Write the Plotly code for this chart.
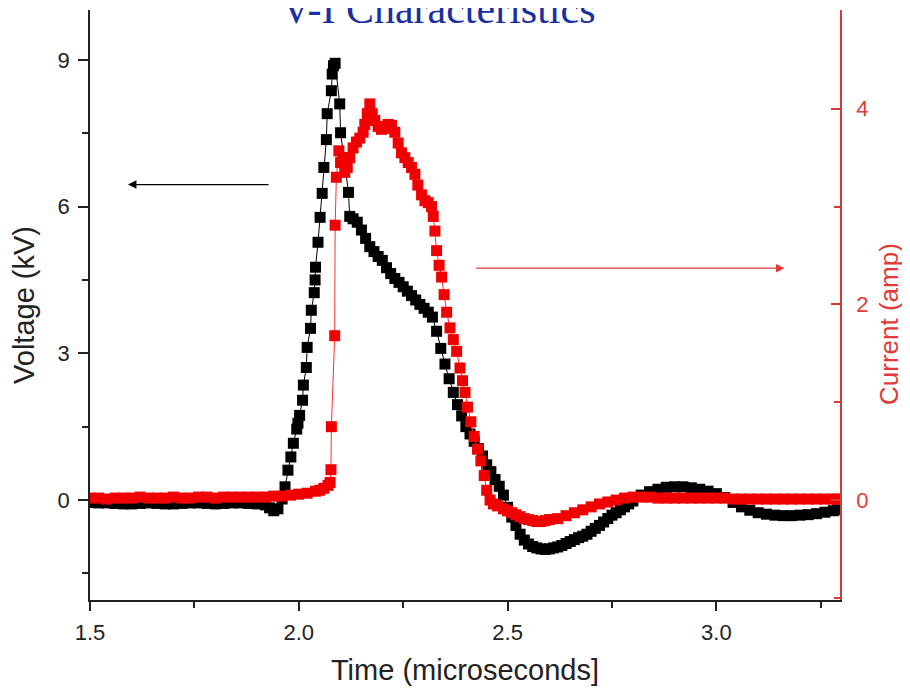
import plotly.graph_objects as go

# ---------------- data ----------------
# Voltage (kV), black squares, left axis
time_v = [1.50, 1.52, 1.54, 1.56, 1.58, 1.60, 1.62, 1.64, 1.66, 1.68, 1.70, 1.72,
          1.74, 1.76, 1.78, 1.80, 1.82, 1.84, 1.86, 1.88, 1.90, 1.92, 1.93, 1.94,
          1.95, 1.960, 1.967, 1.974, 1.981, 1.987, 1.995, 1.998, 2.002, 2.009,
          2.011, 2.018, 2.020, 2.028, 2.030, 2.037, 2.039, 2.040, 2.046, 2.051,
          2.056, 2.060, 2.066, 2.068, 2.078, 2.080, 2.083, 2.087, 2.098, 2.100,
          2.119, 2.122, 2.13, 2.14, 2.15, 2.16, 2.17, 2.18, 2.19, 2.20, 2.21,
          2.22, 2.23, 2.24, 2.25, 2.26, 2.27, 2.28, 2.29, 2.30, 2.31, 2.32, 2.33,
          2.34, 2.35, 2.36, 2.37, 2.38, 2.39, 2.40, 2.41, 2.42, 2.43, 2.44, 2.45,
          2.46, 2.47, 2.48, 2.49, 2.50, 2.51, 2.52, 2.53, 2.54, 2.55, 2.56, 2.57,
          2.58, 2.59, 2.60, 2.61, 2.62, 2.63, 2.64, 2.65, 2.66, 2.67, 2.68, 2.69,
          2.70, 2.71, 2.72, 2.73, 2.74, 2.75, 2.76, 2.77, 2.78, 2.79, 2.80, 2.82,
          2.84, 2.86, 2.88, 2.90, 2.92, 2.94, 2.96, 2.98, 3.00, 3.02, 3.04, 3.06,
          3.08, 3.10, 3.12, 3.14, 3.16, 3.18, 3.20, 3.22, 3.24, 3.26, 3.28, 3.29]
voltage_kv = [-0.05, -0.06, -0.06, -0.07, -0.08, -0.08, -0.07, -0.06, -0.07, -0.08,
              -0.08, -0.07, -0.06, -0.06, -0.07, -0.08, -0.07, -0.06, -0.06, -0.07,
              -0.08, -0.10, -0.16, -0.22, -0.18, 0.02, 0.27, 0.61, 0.88, 1.16, 1.45,
              1.57, 1.73, 2.04, 2.35, 2.71, 3.12, 3.51, 3.88, 4.24, 4.50, 4.76, 5.27,
              5.78, 6.27, 6.80, 7.37, 7.90, 8.37, 8.71, 8.88, 8.93, 8.10, 7.51, 6.29,
              5.80, 5.75, 5.68, 5.52, 5.35, 5.18, 5.08, 4.98, 4.90, 4.75, 4.63, 4.53,
              4.45, 4.36, 4.27, 4.18, 4.09, 4.00, 3.92, 3.84, 3.74, 3.45, 3.10, 2.78,
              2.48, 2.20, 1.95, 1.72, 1.50, 1.35, 1.20, 1.05, 0.90, 0.72, 0.58, 0.42,
              0.28, 0.10, -0.15, -0.35, -0.52, -0.70, -0.82, -0.90, -0.95, -0.98,
              -1.00, -1.01, -1.00, -0.98, -0.96, -0.93, -0.89, -0.85, -0.81, -0.77,
              -0.74, -0.70, -0.64, -0.58, -0.52, -0.45, -0.38, -0.31, -0.26, -0.20,
              -0.14, -0.08, -0.02, 0.10, 0.17, 0.22, 0.26, 0.27, 0.27, 0.25, 0.22,
              0.18, 0.13, 0.05, -0.05, -0.14, -0.21, -0.26, -0.29, -0.31, -0.32,
              -0.32, -0.31, -0.30, -0.28, -0.25, -0.22, -0.20]

# Current (amp), red squares, right axis
time_i = [1.50, 1.52, 1.54, 1.56, 1.58, 1.60, 1.62, 1.64, 1.66, 1.68, 1.70, 1.72,
          1.74, 1.76, 1.78, 1.80, 1.82, 1.84, 1.86, 1.88, 1.90, 1.92, 1.94, 1.96,
          1.98, 2.00, 2.02, 2.04, 2.05, 2.06, 2.07, 2.075, 2.077, 2.078, 2.086,
          2.087, 2.090, 2.096, 2.100, 2.106, 2.110, 2.116, 2.122, 2.130, 2.138,
          2.146, 2.154, 2.158, 2.164, 2.170, 2.176, 2.182, 2.190, 2.198, 2.206,
          2.214, 2.222, 2.230, 2.238, 2.246, 2.254, 2.262, 2.270, 2.278, 2.285,
          2.294, 2.302, 2.310, 2.318, 2.322, 2.326, 2.330, 2.336, 2.342, 2.348,
          2.354, 2.362, 2.370, 2.378, 2.386, 2.392, 2.398, 2.404, 2.412, 2.420,
          2.428, 2.436, 2.444, 2.450, 2.458, 2.466, 2.476, 2.49, 2.50, 2.51, 2.52,
          2.53, 2.54, 2.55, 2.56, 2.57, 2.58, 2.59, 2.60, 2.62, 2.64, 2.66, 2.68,
          2.70, 2.72, 2.74, 2.76, 2.78, 2.80, 2.82, 2.84, 2.86, 2.88, 2.90, 2.92,
          2.94, 2.96, 2.98, 3.00, 3.02, 3.04, 3.06, 3.08, 3.10, 3.12, 3.14, 3.16,
          3.18, 3.20, 3.22, 3.24, 3.26, 3.28, 3.29]
current_amp = [0.02, 0.02, 0.01, 0.02, 0.02, 0.02, 0.03, 0.02, 0.02, 0.02, 0.03, 0.02,
               0.02, 0.03, 0.03, 0.02, 0.03, 0.03, 0.03, 0.03, 0.03, 0.03, 0.04, 0.04,
               0.05, 0.06, 0.07, 0.09, 0.10, 0.12, 0.15, 0.18, 0.31, 0.75, 1.68, 2.81,
               3.30, 3.57, 3.45, 3.50, 3.35, 3.40, 3.50, 3.60, 3.66, 3.70, 3.76, 3.84,
               3.95, 4.05, 3.95, 3.88, 3.82, 3.79, 3.80, 3.84, 3.83, 3.76, 3.65, 3.55,
               3.50, 3.45, 3.40, 3.33, 3.22, 3.12, 3.06, 3.04, 3.00, 2.90, 2.75, 2.55,
               2.40, 2.28, 2.10, 1.92, 1.76, 1.64, 1.52, 1.35, 1.22, 1.10, 0.95, 0.80,
               0.65, 0.52, 0.40, 0.25, 0.10, 0.00, -0.04, -0.06, -0.09, -0.11, -0.13,
               -0.15, -0.17, -0.19, -0.20, -0.21, -0.22, -0.22, -0.21, -0.20, -0.19,
               -0.16, -0.13, -0.10, -0.07, -0.04, -0.02, 0.00, 0.02, 0.03, 0.03, 0.03,
               0.02, 0.02, 0.02, 0.02, 0.02, 0.02, 0.02, 0.02, 0.02, 0.01, 0.01, 0.01,
               0.01, 0.01, 0.01, 0.01, 0.01, 0.01, 0.01, 0.01, 0.01, 0.01, 0.01]

title_text = "V-I Characteristics"
x_title = "Time (microseconds]"
v_title = "Voltage (kV)"
i_title = "Current (amp)"

# ---------------- styling ----------------
BLACK = "#000000"
RED = "#f00000"
RED_AXIS = "#d23a3a"
RED_TEXT = "#e23a36"
TEXT = "#222222"
FONT = "Liberation Sans, Arial, sans-serif"

fig = go.Figure()
fig.add_trace(go.Scatter(
    x=time_v, y=voltage_kv, mode="lines+markers", name="Voltage",
    line=dict(color=BLACK, width=1),
    marker=dict(symbol="square", size=11, color=BLACK),
    yaxis="y", showlegend=False))
fig.add_trace(go.Scatter(
    x=time_i, y=current_amp, mode="lines+markers", name="Current",
    line=dict(color="#ff3030", width=1),
    marker=dict(symbol="square", size=11, color=RED),
    yaxis="y2", showlegend=False))

# direction arrows
fig.add_annotation(x=1.591, y=6.45, ax=1.931, ay=6.45, xref="x", yref="y",
                   axref="x", ayref="y", text="", showarrow=True,
                   arrowhead=2, arrowsize=1.3, arrowwidth=1.3, arrowcolor=BLACK)
fig.add_annotation(x=3.163, y=2.37, ax=2.421, ay=2.37, xref="x", yref="y2",
                   axref="x", ayref="y2", text="", showarrow=True,
                   arrowhead=2, arrowsize=1.3, arrowwidth=1.3, arrowcolor=RED_TEXT)

# title (partially cut at the top, like the reference)
fig.add_annotation(x=0.465, y=0.96, xref="paper", yref="paper", text=title_text,
                   showarrow=False, xanchor="center", yanchor="bottom",
                   font=dict(family="Liberation Serif, Times New Roman, serif",
                             size=42, color="#1a2fa3"))

# right-axis title, placed slightly below the plot's vertical centre as in the reference
fig.add_annotation(x=1.0655, y=0.468, xref="paper", yref="paper", text=i_title,
                   showarrow=False, textangle=-90, xanchor="center", yanchor="middle",
                   font=dict(family=FONT, size=26, color=RED_TEXT))

# the page body adds an 8px offset, so margins are shifted to compensate
fig.update_layout(
    width=910, height=689,
    margin=dict(l=82, r=78, t=2, b=97),
    paper_bgcolor="white", plot_bgcolor="white",
    font=dict(family=FONT, size=22, color=TEXT),
    xaxis=dict(range=[1.5, 3.296], dtick=0.5, tick0=1.5, tickformat=".1f",
               ticks="outside", ticklen=9, tickwidth=1.5, tickcolor=TEXT,
               ticklabelstandoff=3,
               showline=True, linecolor=TEXT, linewidth=1.5,
               showgrid=False, zeroline=False,
               minor=dict(dtick=0.25, tick0=1.5, ticks="outside", ticklen=6,
                          tickwidth=1.5, tickcolor=TEXT, showgrid=False),
               tickfont=dict(size=22, color=TEXT),
               title=dict(text=x_title, font=dict(size=29, color=TEXT), standoff=16)),
    yaxis=dict(range=[-2.045, 10.02], dtick=3, tick0=0,
               ticks="outside", ticklen=10, tickwidth=1.5, tickcolor=TEXT,
               ticklabelstandoff=4,
               showline=True, linecolor=TEXT, linewidth=1.5,
               showgrid=False, zeroline=False,
               minor=dict(dtick=1.5, tick0=0, ticks="outside", ticklen=6,
                          tickwidth=1.5, tickcolor=TEXT, showgrid=False),
               tickfont=dict(size=22, color=TEXT),
               title=dict(text=v_title, font=dict(size=29, color=TEXT), standoff=14)),
    yaxis2=dict(range=[-1.022, 5.01], dtick=2, tick0=0, overlaying="y", side="right",
                ticks="inside", ticklen=9, tickwidth=1.5, tickcolor=RED_AXIS,
                ticklabelstandoff=10,
                showline=True, linecolor=RED_AXIS, linewidth=1.5,
                showgrid=False, zeroline=False,
                minor=dict(dtick=1, tick0=0, ticks="inside", ticklen=6,
                           tickwidth=1.5, tickcolor=RED_AXIS, showgrid=False),
                tickfont=dict(size=22, color=RED_TEXT)),
)

fig.write_html("out.html", config={"displayModeBar": False})
